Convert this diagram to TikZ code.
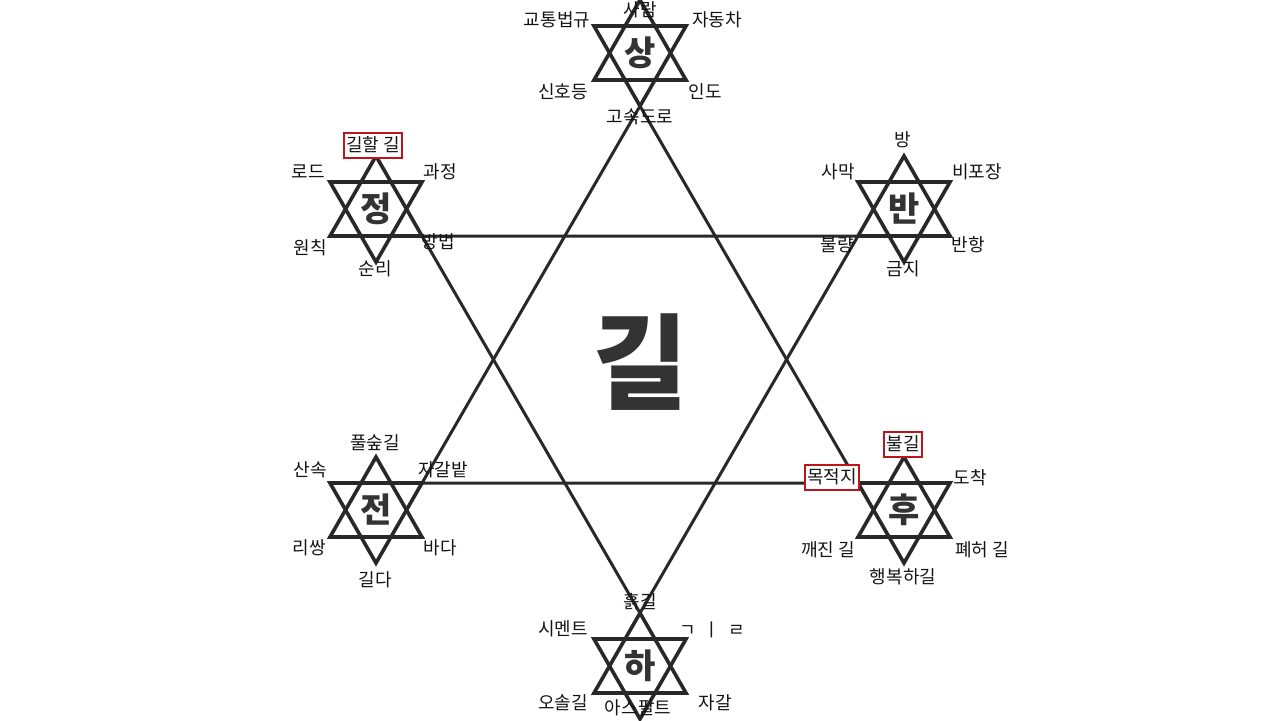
\documentclass[tikz,border=0pt]{standalone}
\usepackage{fontspec}
\setmainfont{Noto Sans CJK KR}
\usepackage{tikz}
\usetikzlibrary{positioning}
\definecolor{lineink}{RGB}{40,40,40}
\definecolor{textink}{RGB}{20,20,20}
\definecolor{bigink}{RGB}{51,51,51}
\definecolor{boxred}{RGB}{190,20,30}

\begin{document}
\begin{tikzpicture}[
    x=0.5pt, y=-0.5pt,
    starline/.style={draw=lineink, line width=1.8pt},
    bigline/.style={draw=lineink, line width=1.5pt},
    hub/.style={font=\fontsize{17}{17}\selectfont\bfseries, text=bigink, inner sep=0pt},
    lbl/.style={font=\fontsize{9}{10}\selectfont, text=textink, inner sep=0pt},
    redbox/.style={lbl, draw=boxred, line width=1pt, fill=white, inner xsep=1.2pt, minimum height=12.5pt}
]
\useasboundingbox (0,0) rectangle (1280,720);

% six small stars: corners, triangles, centre word
\foreach \n/\x/\y/\t in {sang/640/53/상, jeong/376/209/정, ban/904/209/반, jeon/376/510/전, hu/904/510/후, ha/640/666/하}{
    \coordinate (\n-up) at (\x,\y-53);
    \coordinate (\n-ul) at (\x-46,\y+27);
    \coordinate (\n-ur) at (\x+46,\y+27);
    \coordinate (\n-dl) at (\x-46,\y-27);
    \coordinate (\n-dr) at (\x+46,\y-27);
    \coordinate (\n-dn) at (\x,\y+53);
    \draw[starline] (\n-up) -- (\n-ur) -- (\n-ul) -- cycle;
    \draw[starline] (\n-dl) -- (\n-dr) -- (\n-dn) -- cycle;
    \node[hub] (\n) at (\x,\y) {\t};
}

% big hexagram
\draw[bigline] (sang-dn) -- (hu-dl) -- (jeon-dr) -- cycle;
\draw[bigline] (jeong-ur) -- (ban-ul) -- (ha-up) -- cycle;

\node[font=\fontsize{52}{52}\selectfont\bfseries, text=bigink, inner sep=0pt] (gil) at (640,362) {길};

% labels round 상
\node[lbl] (saram) at (640,10) {사람};
\node[lbl] (rules) at (557,20) {교통법규};
\node[lbl] (car) at (717,20) {자동차};
\node[lbl] (signal) at (563,92) {신호등};
\node[lbl] (walk) at (705,92) {인도};
\node[lbl] (highway) at (640,117) {고속도로};

% labels round 정
\node[redbox] (lucky) at (373,145) {길할 길};
\node[lbl] (road) at (308,172) {로드};
\node[lbl] (process) at (440,172) {과정};
\node[lbl] (principle) at (310,248) {원칙};
\node[lbl] (method) at (438,242) {방법};
\node[lbl] (order) at (375,269) {순리};

% labels round 반
\node[lbl] (room) at (903,140) {방};
\node[lbl] (desert) at (838,172) {사막};
\node[lbl] (unpaved) at (977,172) {비포장};
\node[lbl] (bad) at (837,245) {불량};
\node[lbl] (revolt) at (968,245) {반항};
\node[lbl] (ban) at (903,269) {금지};

% labels round 전
\node[lbl] (bush) at (375,443) {풀숲길};
\node[lbl] (mountain) at (310,470) {산속};
\node[lbl] (gravelfield) at (443,470) {자갈밭};
\node[lbl] (leessang) at (309,548) {리쌍};
\node[lbl] (sea) at (440,548) {바다};
\node[lbl] (long) at (375,580) {길다};

% labels round 후
\node[redbox] (fire) at (903,444) {불길};
\node[redbox] (goal) at (832,477) {목적지};
\node[lbl] (arrive) at (970,478) {도착};
\node[lbl] (broken) at (828,550) {깨진 길};
\node[lbl] (ruin) at (982,550) {폐허 길};
\node[lbl] (happy) at (903,577) {행복하길};

% labels round 하
\node[lbl] (dirt) at (640,602) {흙길};
\node[lbl] (cement) at (563,629) {시멘트};
\node[lbl] (jamo) at (712,630) {ㄱ\ \ ㅣ\ \ ㄹ};
\node[lbl] (trail) at (563,703) {오솔길};
\node[lbl] (asphalt) at (638,708) {아스팔트};
\node[lbl] (gravel) at (715,703) {자갈};
\end{tikzpicture}
\end{document}
